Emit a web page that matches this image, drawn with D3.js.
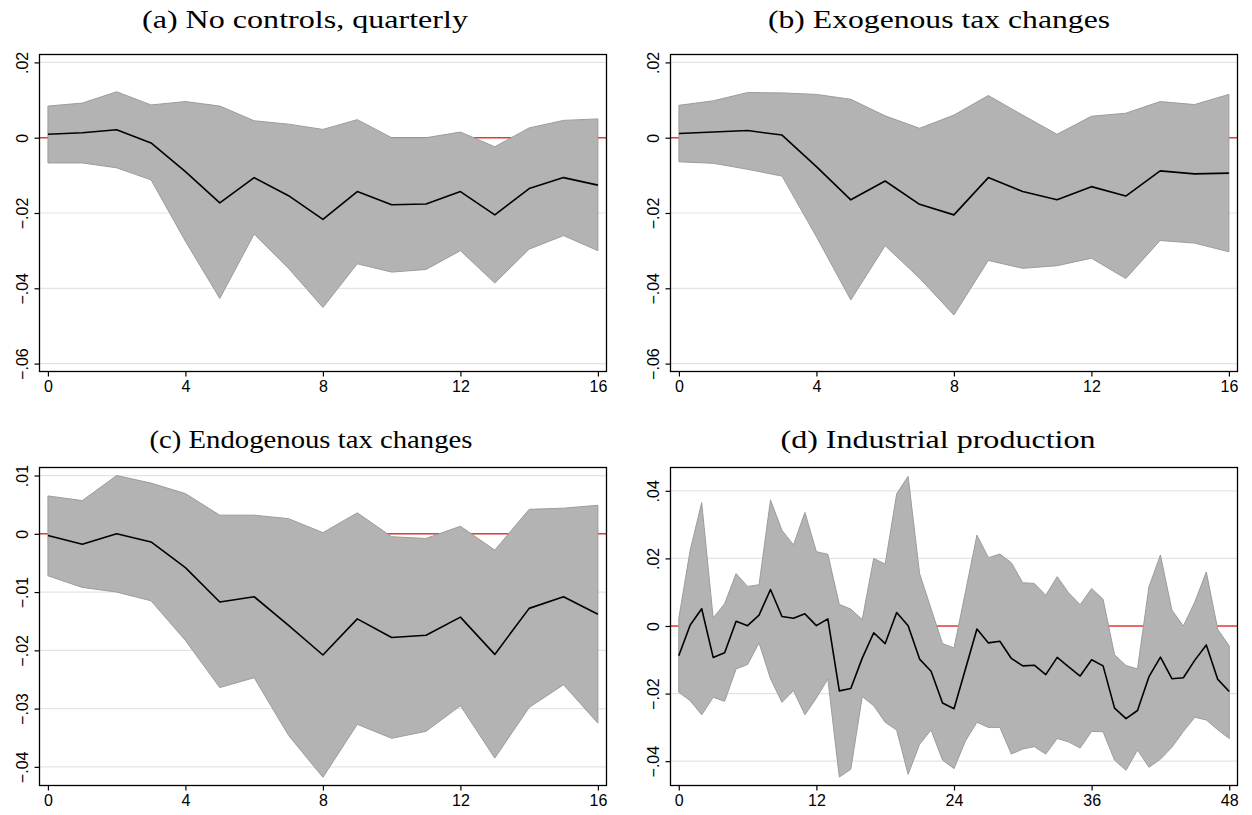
<!DOCTYPE html>
<html>
<head>
<meta charset="utf-8">
<script src="https://cdn.jsdelivr.net/npm/d3@7"></script>
<style>
  html, body { margin: 0; padding: 0; background: #fff; }
  svg { display: block; }
</style>
</head>
<body>
<svg id="chart" width="1252" height="815"></svg>
<script>
// Impulse responses with confidence bands, four panels.

// Horizons
const horizonsQ = d3.range(0, 17);
const horizonsM = d3.range(0, 49);

// (a) No controls, quarterly
const aMean = [0.0009, 0.0013, 0.0021, -0.0014, -0.0090, -0.0173, -0.0106, -0.0154, -0.0217, -0.0143, -0.0178, -0.0176, -0.0143, -0.0205, -0.0135, -0.0106, -0.0126];
const aUpper = [0.0084, 0.0092, 0.0122, 0.0087, 0.0096, 0.0084, 0.0045, 0.0036, 0.0022, 0.0048, 0.0000, 0.0000, 0.0015, -0.0024, 0.0026, 0.0046, 0.0050];
const aLower = [-0.0067, -0.0067, -0.0080, -0.0112, -0.0275, -0.0427, -0.0256, -0.0347, -0.0451, -0.0335, -0.0357, -0.0350, -0.0300, -0.0386, -0.0296, -0.0260, -0.0300];

// (b) Exogenous tax changes
const bMean = [0.0011, 0.0015, 0.0019, 0.0007, -0.0077, -0.0165, -0.0115, -0.0177, -0.0205, -0.0106, -0.0143, -0.0165, -0.0130, -0.0155, -0.0088, -0.0096, -0.0094];
const bUpper = [0.0086, 0.0098, 0.0120, 0.0119, 0.0115, 0.0102, 0.0058, 0.0025, 0.0060, 0.0112, 0.0060, 0.0009, 0.0057, 0.0065, 0.0096, 0.0088, 0.0115];
const bLower = [-0.0064, -0.0068, -0.0084, -0.0102, -0.0263, -0.0431, -0.0287, -0.0373, -0.0471, -0.0326, -0.0347, -0.0340, -0.0320, -0.0374, -0.0273, -0.0280, -0.0303];

// (c) Endogenous tax changes
const cMean = [-0.0003, -0.0018, 0.0000, -0.0014, -0.0058, -0.0117, -0.0108, -0.0157, -0.0208, -0.0146, -0.0178, -0.0174, -0.0143, -0.0207, -0.0128, -0.0108, -0.0138];
const cUpper = [0.0065, 0.0057, 0.0100, 0.0087, 0.0069, 0.0032, 0.0032, 0.0026, 0.0002, 0.0036, -0.0005, -0.0008, 0.0013, -0.0028, 0.0042, 0.0044, 0.0049];
const cLower = [-0.0072, -0.0092, -0.0100, -0.0115, -0.0183, -0.0264, -0.0247, -0.0346, -0.0418, -0.0327, -0.0351, -0.0339, -0.0295, -0.0385, -0.0298, -0.0259, -0.0325];

// (d) Industrial production, monthly
const dMean = [-0.0088, 0.0003, 0.0051, -0.0093, -0.0079, 0.0014, 0.0001, 0.0032, 0.0108, 0.0028,
  0.0023, 0.0036, 0.0001, 0.0021, -0.0192, -0.0185, -0.0095, -0.0020, -0.0052, 0.0040,
  0.0001, -0.0098, -0.0134, -0.0228, -0.0245, -0.0127, -0.0009, -0.0050, -0.0045, -0.0096,
  -0.0118, -0.0116, -0.0144, -0.0093, -0.0121, -0.0148, -0.0100, -0.0118, -0.0243, -0.0274,
  -0.0250, -0.0150, -0.0092, -0.0156, -0.0153, -0.0101, -0.0056, -0.0158, -0.0194];
const dUpper = [0.0022, 0.0225, 0.0365, 0.0024, 0.0066, 0.0155, 0.0117, 0.0122, 0.0373, 0.0283,
  0.0240, 0.0336, 0.0220, 0.0212, 0.0064, 0.0050, 0.0019, 0.0200, 0.0183, 0.0391,
  0.0443, 0.0155, 0.0051, -0.0052, -0.0065, 0.0101, 0.0269, 0.0202, 0.0213, 0.0187,
  0.0128, 0.0126, 0.0091, 0.0146, 0.0098, 0.0063, 0.0111, 0.0079, -0.0085, -0.0117,
  -0.0127, 0.0116, 0.0210, 0.0047, 0.0000, 0.0071, 0.0160, -0.0010, -0.0059];
const dLower = [-0.0196, -0.0221, -0.0263, -0.0211, -0.0223, -0.0127, -0.0114, -0.0050, -0.0156, -0.0226,
  -0.0191, -0.0263, -0.0213, -0.0157, -0.0447, -0.0424, -0.0209, -0.0236, -0.0285, -0.0308,
  -0.0439, -0.0350, -0.0308, -0.0397, -0.0422, -0.0340, -0.0285, -0.0300, -0.0300, -0.0379,
  -0.0364, -0.0357, -0.0379, -0.0333, -0.0343, -0.0361, -0.0312, -0.0313, -0.0397, -0.0427,
  -0.0367, -0.0418, -0.0394, -0.0359, -0.0312, -0.0270, -0.0278, -0.0307, -0.0333];

// Axis ticks
const xTicksQ = [0, 4, 8, 12, 16];
const xTicksM = [0, 12, 24, 36, 48];
const yTicksAB = [0.02, 0, -0.02, -0.04, -0.06];
const yTicksC = [0.01, 0, -0.01, -0.02, -0.03, -0.04];
const yTicksD = [0.04, 0.02, 0, -0.02, -0.04];

const titles = ["(a) No controls, quarterly", "(b) Exogenous tax changes",
                "(c) Endogenous tax changes", "(d) Industrial production"];

const fmtY = v => {
  if (v === 0) return "0";
  const s = d3.format(".2f")(Math.abs(v)).replace(/^0/, "");
  return (v < 0 ? "\u2212" : "") + s;
};

const panels = [
  { title: titles[0], x: horizonsQ, mean: aMean, lo: aLower, hi: aUpper,
    xDom: [-0.245, 16.25], yDom: [-0.0621, 0.0221], xTicks: xTicksQ, yTicks: yTicksAB,
    box: { left: 39.5, right: 606.5, top: 54.5, bottom: 371.5 }, cx: 305, ty: 28, tw: 326 },
  { title: titles[1], x: horizonsQ, mean: bMean, lo: bLower, hi: bUpper,
    xDom: [-0.245, 16.25], yDom: [-0.0621, 0.0221], xTicks: xTicksQ, yTicks: yTicksAB,
    box: { left: 670.5, right: 1237.5, top: 54.5, bottom: 371.5 }, cx: 939, ty: 28, tw: 342 },
  { title: titles[2], x: horizonsQ, mean: cMean, lo: cLower, hi: cUpper,
    xDom: [-0.245, 16.25], yDom: [-0.0432, 0.01138], xTicks: xTicksQ, yTicks: yTicksC,
    box: { left: 39.5, right: 606.5, top: 467.5, bottom: 785.5 }, cx: 311, ty: 448, tw: 323 },
  { title: titles[3], x: horizonsM, mean: dMean, lo: dLower, hi: dUpper,
    xDom: [-0.72, 48.72], yDom: [-0.0472, 0.0469], xTicks: xTicksM, yTicks: yTicksD,
    box: { left: 670.5, right: 1237.5, top: 467.5, bottom: 785.5 }, cx: 938, ty: 448, tw: 315 }
];

const svg = d3.select("#chart");

panels.forEach(p => {
  const b = p.box;
  const x = d3.scaleLinear().domain(p.xDom).range([b.left, b.right]);
  const y = d3.scaleLinear().domain(p.yDom).range([b.bottom, b.top]);
  const g = svg.append("g");

  // Title
  g.append("text")
    .attr("x", p.cx).attr("y", p.ty)
    .attr("text-anchor", "middle")
    .attr("font-family", "'Liberation Serif', 'Times New Roman', serif")
    .attr("font-size", 26)
    .attr("textLength", p.tw)
    .attr("lengthAdjust", "spacingAndGlyphs")
    .attr("fill", "#000")
    .text(p.title);

  // Horizontal grid lines
  g.append("g").selectAll("line").data(p.yTicks).join("line")
    .attr("x1", b.left).attr("x2", b.right)
    .attr("y1", d => y(d)).attr("y2", d => y(d))
    .attr("stroke", "#e4e4e4").attr("stroke-width", 1.2);

  // Zero reference line
  g.append("line")
    .attr("x1", b.left).attr("x2", b.right)
    .attr("y1", y(0)).attr("y2", y(0))
    .attr("stroke", "#ea3a33").attr("stroke-width", 1.4);

  // Confidence band
  const rows = p.x.map((h, i) => ({ h, lo: p.lo[i], hi: p.hi[i], m: p.mean[i] }));
  g.append("path")
    .datum(rows)
    .attr("d", d3.area().x(d => x(d.h)).y0(d => y(d.lo)).y1(d => y(d.hi)))
    .attr("fill", "#b3b3b3")
    .attr("stroke", "#9c9c9c")
    .attr("stroke-width", 1)
    .attr("stroke-linejoin", "round");

  // Point estimate
  g.append("path")
    .datum(rows)
    .attr("d", d3.line().x(d => x(d.h)).y(d => y(d.m)))
    .attr("fill", "none")
    .attr("stroke", "#000")
    .attr("stroke-width", 1.6)
    .attr("stroke-linejoin", "round");

  // Frame
  g.append("rect")
    .attr("x", b.left).attr("y", b.top)
    .attr("width", b.right - b.left).attr("height", b.bottom - b.top)
    .attr("fill", "none").attr("stroke", "#000").attr("stroke-width", 1.3);

  // x axis
  const xAxis = d3.axisBottom(x).tickValues(p.xTicks).tickSize(5).tickPadding(4)
    .tickFormat(d3.format("d"));
  const gx = g.append("g").attr("transform", `translate(0,${b.bottom})`).call(xAxis);
  gx.select(".domain").remove();
  gx.selectAll(".tick line").attr("stroke", "#000").attr("stroke-width", 1.2);
  gx.selectAll(".tick text")
    .attr("font-family", "'Liberation Sans', Arial, sans-serif")
    .attr("font-size", 16).attr("fill", "#000");

  // y axis with rotated labels
  const yAxis = d3.axisLeft(y).tickValues(p.yTicks).tickSize(5).tickPadding(6)
    .tickFormat(fmtY);
  const gy = g.append("g").attr("transform", `translate(${b.left},0)`).call(yAxis);
  gy.select(".domain").remove();
  gy.selectAll(".tick line").attr("stroke", "#000").attr("stroke-width", 1.2);
  gy.selectAll(".tick text")
    .attr("font-family", "'Liberation Sans', Arial, sans-serif")
    .attr("font-size", 16).attr("fill", "#000")
    .attr("x", null).attr("dy", null)
    .attr("text-anchor", "middle")
    .attr("transform", "translate(-12,0) rotate(-90)");
});
</script>
</body>
</html>
